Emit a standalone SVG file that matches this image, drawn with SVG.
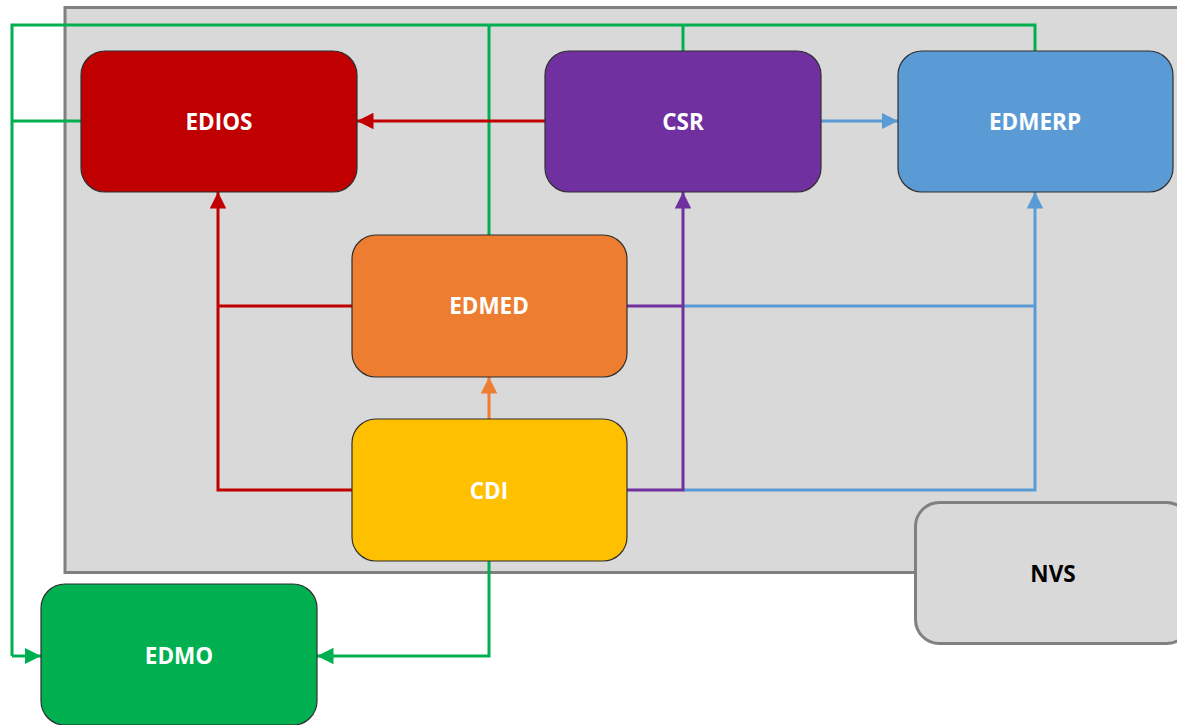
<svg xmlns="http://www.w3.org/2000/svg" width="1177" height="725" viewBox="0 0 1177 725">
<style>
.node{stroke:#2f2f2f;stroke-width:1.2}
.lbl{font-family:"Open Sans","Liberation Sans",sans-serif;font-weight:bold;font-size:22.5px;fill:#ffffff;text-anchor:middle;dominant-baseline:central}
.c{fill:none;stroke-width:3}
.red{stroke:#c00000}.pur{stroke:#7030a0}.blu{stroke:#5b9bd5}.org{stroke:#ed7d31}.grn{stroke:#00b050}
</style>
<defs>
<marker id="aR" viewBox="0 0 10 10" refX="10" refY="5" markerWidth="5.5" markerHeight="5.5" orient="auto" markerUnits="strokeWidth"><path d="M0,0L10,5L0,10z" fill="#c00000"/></marker>
<marker id="aP" viewBox="0 0 10 10" refX="10" refY="5" markerWidth="5.5" markerHeight="5.5" orient="auto" markerUnits="strokeWidth"><path d="M0,0L10,5L0,10z" fill="#7030a0"/></marker>
<marker id="aB" viewBox="0 0 10 10" refX="10" refY="5" markerWidth="5.5" markerHeight="5.5" orient="auto" markerUnits="strokeWidth"><path d="M0,0L10,5L0,10z" fill="#5b9bd5"/></marker>
<marker id="aO" viewBox="0 0 10 10" refX="10" refY="5" markerWidth="5.5" markerHeight="5.5" orient="auto" markerUnits="strokeWidth"><path d="M0,0L10,5L0,10z" fill="#ed7d31"/></marker>
<marker id="aG" viewBox="0 0 10 10" refX="10" refY="5" markerWidth="5.5" markerHeight="5.5" orient="auto" markerUnits="strokeWidth"><path d="M0,0L10,5L0,10z" fill="#00b050"/></marker>
</defs>
<rect width="1177" height="725" fill="#ffffff"/>
<rect id="container" x="65" y="7.5" width="1130" height="565" fill="#d9d9d9" stroke="#808080" stroke-width="3"/>
<g id="connectors">
<path class="c grn" d="M12,656V25H1035V51"/>
<path class="c grn" d="M489,25V235"/>
<path class="c grn" d="M683,25V51"/>
<path class="c grn" d="M12,121H81"/>
<path class="c grn" d="M12,656H41" marker-end="url(#aG)"/>
<path class="c grn" d="M489,561V656H317" marker-end="url(#aG)"/>
<path class="c red" d="M545,121H357" marker-end="url(#aR)"/>
<path class="c red" d="M352,306H218"/>
<path class="c red" d="M352,490H218V192" marker-end="url(#aR)"/>
<path class="c org" d="M489,419V377" marker-end="url(#aO)"/>
<path class="c blu" d="M821,121H898" marker-end="url(#aB)"/>
<path class="c blu" d="M683,306H1035"/>
<path class="c blu" d="M683,490H1035V192" marker-end="url(#aB)"/>
<path class="c pur" d="M627,306H683"/>
<path class="c pur" d="M627,490H683V192" marker-end="url(#aP)"/>
</g>
<g id="EDIOS"><rect class="node" x="81" y="51" width="276" height="141" rx="24" fill="#c00000"/><text class="lbl" x="219" y="121">EDIOS</text></g>
<g id="CSR"><rect class="node" x="545" y="51" width="276" height="141" rx="24" fill="#7030a0"/><text class="lbl" x="683" y="121">CSR</text></g>
<g id="EDMERP"><rect class="node" x="898" y="51" width="275" height="141" rx="24" fill="#5b9bd5"/><text class="lbl" x="1035" y="121">EDMERP</text></g>
<g id="EDMED"><rect class="node" x="352" y="235" width="275" height="142" rx="24" fill="#ed7d31"/><text class="lbl" x="489" y="305">EDMED</text></g>
<g id="CDI"><rect class="node" x="352" y="419" width="275" height="142" rx="24" fill="#ffc000"/><text class="lbl" x="489" y="490">CDI</text></g>
<g id="EDMO"><rect class="node" x="41" y="584" width="276" height="141" rx="24" fill="#00b050"/><text class="lbl" x="179" y="655">EDMO</text></g>
<g id="NVS"><rect x="915.5" y="502.5" width="275" height="141" rx="24" fill="#d9d9d9" stroke="#808080" stroke-width="3"/><text class="lbl" x="1053" y="573" style="fill:#000000">NVS</text></g>
</svg>
